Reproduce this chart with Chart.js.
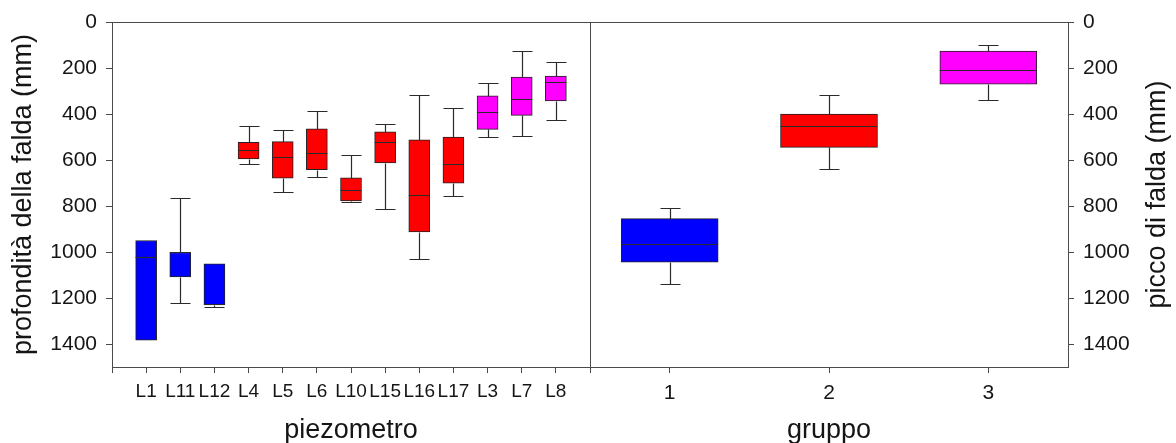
<!DOCTYPE html>
<html>
<head>
<meta charset="utf-8">
<script src="https://cdn.jsdelivr.net/npm/chart.js@4.4.1/dist/chart.umd.min.js"></script>
<style>
  html, body { margin: 0; padding: 0; background: #fff; }
  #wrap { position: relative; width: 1176px; height: 443px; overflow: hidden; }
  #left { position: absolute; left: 0; top: 0; width: 600px; height: 443px; }
  #right { position: absolute; left: 580px; top: 0; width: 596px; height: 443px; }
</style>
</head>
<body>
<div id="wrap">
  <canvas id="left" width="600" height="443"></canvas>
  <canvas id="right" width="596" height="443"></canvas>
</div>
<script>
// piezometri (left panel) - depth in mm
const piezometri = ["L1", "L11", "L12", "L4", "L5", "L6", "L10", "L15", "L16", "L17", "L3", "L7", "L8"];
const pzMin    = [950, 765, 1051, 454, 468, 388, 579, 442, 317, 374, 267, 128, 174];
const pzQ1     = [950, 1002, 1051, 523, 520, 465, 677, 478, 512, 500, 321, 240, 235];
const pzMedian = [1020, 1002, 1226, 558, 587, 571, 730, 520, 750, 618, 392, 334, 260];
const pzQ3     = [1383, 1108, 1230, 595, 679, 642, 778, 613, 913, 701, 467, 406, 343];
const pzMax    = [1383, 1222, 1241, 618, 737, 672, 781, 814, 1032, 757, 500, 494, 427];
const pzGroup  = [0, 0, 0, 1, 1, 1, 1, 1, 1, 1, 2, 2, 2];

// gruppi (right panel) - picco di falda in mm
const gruppi   = ["1", "2", "3"];
const grMin    = [809, 318, 100];
const grQ1     = [855, 400, 126];
const grMedian = [964, 453, 208];
const grQ3     = [1044, 545, 270];
const grMax    = [1140, 638, 337];

const depthTicks = [0, 200, 400, 600, 800, 1000, 1200, 1400];
const groupColors = ["#0000ff", "#ff0000", "#ff00ff"];

const FONT = "'Liberation Sans', Arial, sans-serif";
const LINE = "#4a4a4a";
const TEXT = "#151515";

// whiskers + median, drawn with the chart's own scales
function boxPlugin(mins, meds, maxs, q1s, q3s, shift, cap) {
  return {
    id: "boxWhiskers",
    afterDatasetsDraw(chart) {
      const meta = chart.getDatasetMeta(0);
      const ys = chart.scales.y;
      const ctx = chart.ctx;
      const py = v => Math.round(ys.getPixelForValue(v)) + 0.5;
      ctx.save();
      ctx.strokeStyle = "#2a2a2a";
      ctx.lineWidth = 1.2;
      for (let i = 0; i < meds.length; i++) {
        const bar = meta.data[i + shift];
        if (!bar) continue;
        const x = Math.round(bar.x) + 0.5;
        const half = bar.width / 2;
        ctx.beginPath();
        ctx.moveTo(bar.x - half, py(meds[i]));
        ctx.lineTo(bar.x + half, py(meds[i]));
        if (mins[i] < q1s[i]) {
          ctx.moveTo(x, py(q1s[i]));
          ctx.lineTo(x, py(mins[i]));
          ctx.moveTo(x - cap, py(mins[i]));
          ctx.lineTo(x + cap, py(mins[i]));
        }
        if (maxs[i] > q3s[i]) {
          ctx.moveTo(x, py(q3s[i]));
          ctx.lineTo(x, py(maxs[i]));
          ctx.moveTo(x - cap, py(maxs[i]));
          ctx.lineTo(x + cap, py(maxs[i]));
        }
        ctx.stroke();
      }
      ctx.restore();
    }
  };
}

// frame round the plot area
const framePlugin = {
  id: "frame",
  afterDraw(chart) {
    const a = chart.chartArea;
    const ctx = chart.ctx;
    ctx.save();
    ctx.strokeStyle = LINE;
    ctx.lineWidth = 1;
    ctx.strokeRect(Math.round(a.left) + 0.5, Math.round(a.top) + 0.5,
      Math.round(a.right - a.left), Math.round(a.bottom - a.top));
    ctx.restore();
  }
};

// right axis title reads bottom to top like the left one
const rightTitlePlugin = {
  id: "rightTitle",
  afterDraw(chart) {
    const a = chart.chartArea;
    const ctx = chart.ctx;
    ctx.save();
    ctx.translate(1157.5 - 580, (a.top + a.bottom) / 2);
    ctx.rotate(-Math.PI / 2);
    ctx.font = "27px " + FONT;
    ctx.fillStyle = TEXT;
    ctx.textAlign = "center";
    ctx.textBaseline = "middle";
    ctx.fillText("picco di falda (mm)", 0, 0);
    ctx.restore();
  }
};

function yAxis(position, width, withTitle) {
  return {
    type: "linear",
    position: position,
    reverse: true,
    min: 0,
    max: 1500,
    afterBuildTicks(s) { s.ticks = depthTicks.map(v => ({ value: v })); },
    afterFit(s) { s.width = width; },
    grid: { drawOnChartArea: false, drawTicks: true, tickLength: 6, color: LINE },
    border: { display: false },
    ticks: {
      padding: 9, color: TEXT, font: { family: FONT, size: 21 },
      callback: v => String(v)
    },
    title: withTitle ? {
      display: true, text: "profondità della falda (mm)", color: TEXT,
      font: { family: FONT, size: 27, lineHeight: 1 }, padding: { top: 10, bottom: 0 }
    } : { display: false }
  };
}

function xAxis(offset, title, size, pad) {
  return {
    type: "category",
    offset: offset,
    afterFit(s) { s.height = 76; },
    grid: { offset: false, drawOnChartArea: false, drawTicks: true, tickLength: 6, color: LINE },
    border: { display: false },
    ticks: { autoSkip: false, maxRotation: 0, padding: pad, color: TEXT, font: { family: FONT, size: size } },
    title: {
      display: true, text: title, color: TEXT,
      font: { family: FONT, size: 27, lineHeight: 1 }, padding: { top: 0, bottom: -1 }
    }
  };
}

// left panel: empty categories at both ends give the outer margin
const leftLabels = [""].concat(piezometri, [""]);
const leftBoxes = [null].concat(pzQ1.map((q, i) => [q, pzQ3[i]]), [null]);
const leftColors = ["#fff"].concat(pzGroup.map(g => groupColors[g]), ["#fff"]);

new Chart(document.getElementById("left"), {
  type: "bar",
  data: {
    labels: leftLabels,
    datasets: [{
      data: leftBoxes,
      backgroundColor: leftColors,
      borderColor: "#222",
      borderWidth: 1,
      borderSkipped: false,
      barThickness: 21
    }]
  },
  options: {
    responsive: false,
    animation: false,
    layout: { padding: { top: 22, right: 10, left: 0, bottom: 0 } },
    plugins: { legend: { display: false }, tooltip: { enabled: false } },
    scales: {
      x: xAxis(false, "piezometro", 19, 7),
      y: yAxis("left", 112, true)
    }
  },
  plugins: [boxPlugin(pzMin, pzMedian, pzMax, pzQ1, pzQ3, 1, 10), framePlugin]
});

// right panel
new Chart(document.getElementById("right"), {
  type: "bar",
  data: {
    labels: gruppi,
    datasets: [{
      data: grQ1.map((q, i) => [q, grQ3[i]]),
      backgroundColor: groupColors,
      borderColor: "#222",
      borderWidth: 1,
      borderSkipped: false,
      barThickness: 97
    }]
  },
  options: {
    responsive: false,
    animation: false,
    layout: { padding: { top: 22, right: 0, left: 10, bottom: 0 } },
    plugins: { legend: { display: false }, tooltip: { enabled: false } },
    scales: {
      x: xAxis(true, "gruppo", 21, 8),
      y: yAxis("right", 108, false)
    }
  },
  plugins: [boxPlugin(grMin, grMedian, grMax, grQ1, grQ3, 0, 10), framePlugin, rightTitlePlugin]
});
</script>
</body>
</html>
